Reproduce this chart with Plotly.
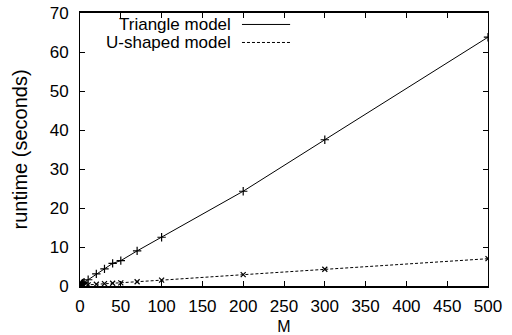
import plotly.graph_objects as go

M = [1, 2, 3, 4, 5, 10, 20, 30, 40, 50, 70, 100, 200, 300, 500]
triangle = [0.3, 0.5, 0.7, 0.8, 1.0, 1.6, 3.1, 4.4, 5.8, 6.5, 9.0, 12.5, 24.3, 37.5, 63.8]
ushaped = [0.05, 0.1, 0.12, 0.15, 0.2, 0.3, 0.45, 0.6, 0.7, 0.8, 1.1, 1.5, 2.9, 4.3, 7.0]
names = ["Triangle model", "U-shaped model"]
x_ticks = list(range(0, 501, 50))
y_ticks = list(range(0, 71, 10))

FONT = "Liberation Sans, Arial, Helvetica, sans-serif"
FS = 17

fig = go.Figure()
fig.add_trace(go.Scatter(x=M, y=triangle, mode="lines+markers", name=names[0],
                         line=dict(color="black", width=1),
                         marker=dict(symbol="cross-thin", size=6, line=dict(color="black", width=1.2))))
fig.add_trace(go.Scatter(x=M, y=ushaped, mode="lines+markers", name=names[1],
                         line=dict(color="black", width=1, dash="3px,2px"),
                         marker=dict(symbol="x-thin", size=5, line=dict(color="black", width=1.2))))

# gnuplot-style key: text, then sample line
key_rows = [(0.958, "solid"), (0.892, "3px,2px")]
for (ky, dash), name in zip(key_rows, names):
    fig.add_annotation(x=0.375, y=ky, xref="paper", yref="paper", text=name, showarrow=False,
                       xanchor="right", yanchor="middle", font=dict(family=FONT, size=FS, color="black"))
    fig.add_shape(type="line", xref="paper", yref="paper", x0=0.397, x1=0.515, y0=ky, y1=ky,
                  line=dict(color="black", width=1, dash=dash))

fig.update_layout(
    width=512, height=335,
    margin=dict(l=80, r=24, t=13, b=49),
    paper_bgcolor="white", plot_bgcolor="white",
    showlegend=False,
    font=dict(family=FONT, size=FS, color="black"),
)
fig.update_xaxes(range=[0, 500], tickvals=x_ticks, ticks="inside", ticklen=5, tickcolor="black",
                 showline=True, linecolor="black", linewidth=1.5, mirror="allticks",
                 showgrid=False, zeroline=False, automargin=False, ticklabelstandoff=4,
                 title=dict(text="M", standoff=8, font=dict(size=16)))
fig.update_yaxes(range=[0, 70], tickvals=y_ticks, ticks="inside", ticklen=5, tickcolor="black",
                 showline=True, linecolor="black", linewidth=1, mirror="allticks",
                 showgrid=False, zeroline=False, automargin=False, ticklabelstandoff=7,
                 title=dict(text="runtime (seconds)", standoff=16))

fig.write_html("out.html", config={"displayModeBar": False},
               post_script="document.body.style.margin='0';")
